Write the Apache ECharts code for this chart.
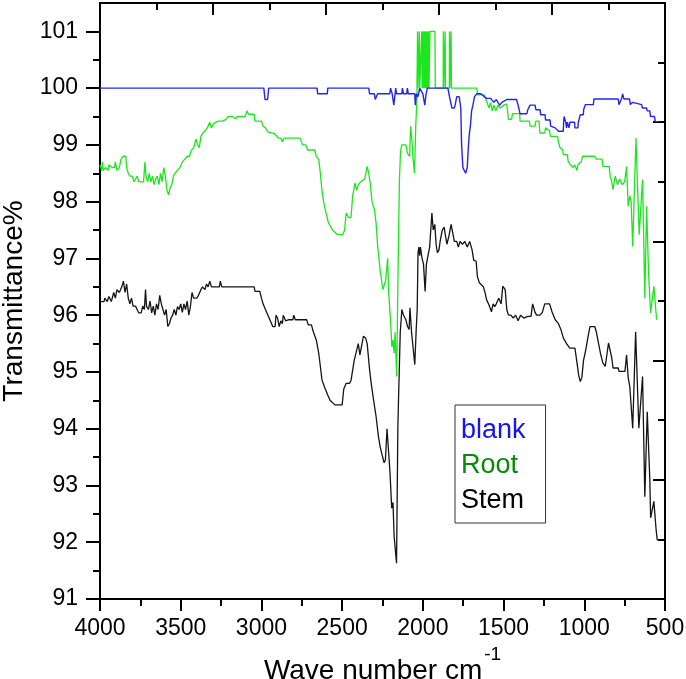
<!DOCTYPE html>
<html>
<head>
<meta charset="utf-8">
<script src="https://cdn.jsdelivr.net/npm/echarts@6/dist/echarts.min.js"></script>
<style>html,body{margin:0;padding:0;background:#fff}#c{width:686px;height:679px}</style>
</head>
<body>
<div id="c"></div>
<script>
const yMajorTicks = [91, 92, 93, 94, 95, 96, 97, 98, 99, 100, 101];
const yMinorTicks = [91.5, 92.5, 93.5, 94.5, 95.5, 96.5, 97.5, 98.5, 99.5, 100.5];
const seriesNames = ['blank', 'Root', 'Stem'];

const blankData = [
[4000,100],[2985,100],[2978,99.8],[2962,99.8],[2955,100],[2655,100],[2652,99.9],[2592,99.9],[2589,100],
[2335,100],[2330,99.9],[2300,99.9],[2295,99.8],[2285,99.8],[2280,99.9],[2205,99.9],[2200,100],[2190,99.9],
[2185,99.9],[2180,99.7],[2172,99.7],[2168,100],[2163,99.9],[2130,99.9],[2127,100],[2120,99.9],[2100,99.9],
[2096,100],[2090,99.9],[2050,99.9],[2047,99.7],[2040,99.9],[2030,99.85],[2020,100],[2010,100],[2000,99.9],
[1988,99.7],[1980,99.9],[1972,100],[1845,100],[1835,99.85],[1820,99.65],[1805,99.65],[1800,99.7],[1790,99.85],
[1775,99.85],[1765,99.65],[1760,99.0],[1752,98.6],[1735,98.5],[1725,98.6],[1718,98.97],[1712,99.2],[1705,99.35],
[1698,99.6],[1690,99.7],[1680,99.85],[1665,99.9],[1640,99.9],[1620,99.85],[1605,99.82],[1580,99.82],[1560,99.75],
[1545,99.8],[1525,99.7],[1510,99.75],[1480,99.8],[1420,99.8],[1410,99.7],[1398,99.55],[1356,99.55],[1350,99.62],
[1336,99.7],[1305,99.7],[1300,99.62],[1274,99.62],[1270,99.53],[1243,99.53],[1240,99.44],[1212,99.44],[1208,99.33],
[1180,99.3],[1160,99.24],[1130,99.24],[1128,99.4],[1125,99.5],[1115,99.4],[1110,99.3],[1105,99.4],[1095,99.3],
[1089,99.4],[1060,99.4],[1058,99.3],[1040,99.3],[1037,99.4],[1027,99.4],[1025,99.53],[1006,99.53],[1004,99.62],
[996,99.62],[994,99.71],[944,99.71],[940,99.81],[790,99.81],[785,99.71],[775,99.71],[770,99.81],[762,99.9],
[755,99.81],[720,99.81],[715,99.71],[700,99.75],[645,99.71],[640,99.65],[614,99.65],[610,99.6],[594,99.6],
[590,99.5],[565,99.5],[560,99.41],[535,99.41]
];

const rootData = [
[4000,98.65],[3990,98.55],[3985,98.7],[3980,98.55],[3965,98.6],[3950,98.55],[3945,98.65],[3925,98.6],[3910,98.6],
[3905,98.7],[3895,98.55],[3880,98.6],[3870,98.75],[3855,98.8],[3840,98.8],[3835,98.6],[3825,98.5],[3815,98.45],
[3800,98.45],[3790,98.35],[3780,98.4],[3770,98.45],[3760,98.35],[3730,98.35],[3722,98.7],[3715,98.45],[3705,98.35],
[3695,98.5],[3685,98.35],[3675,98.45],[3665,98.3],[3655,98.4],[3645,98.45],[3635,98.3],[3625,98.5],[3615,98.35],
[3605,98.6],[3595,98.45],[3585,98.2],[3575,98.12],[3565,98.25],[3555,98.3],[3545,98.45],[3535,98.5],[3520,98.55],
[3505,98.6],[3490,98.7],[3475,98.75],[3460,98.8],[3445,98.8],[3435,98.9],[3420,98.95],[3405,99.1],[3395,99.0],
[3385,98.95],[3375,99.15],[3365,99.2],[3350,99.25],[3335,99.3],[3320,99.4],[3310,99.3],[3295,99.38],[3280,99.4],
[3265,99.42],[3240,99.42],[3220,99.45],[3205,99.5],[3180,99.5],[3160,99.46],[3150,99.5],[3100,99.5],[3090,99.6],
[3080,99.54],[3045,99.54],[3040,99.42],[3000,99.42],[2990,99.33],[2975,99.3],[2960,99.23],[2920,99.2],[2895,99.12],
[2880,99.12],[2870,99.05],[2860,99.12],[2760,99.12],[2745,99.0],[2725,99.0],[2715,98.91],[2670,98.91],[2660,98.8],
[2645,98.74],[2635,98.5],[2625,98.2],[2615,98.0],[2600,97.8],[2585,97.63],[2560,97.5],[2530,97.42],[2495,97.42],
[2485,97.5],[2475,97.8],[2460,97.72],[2445,97.72],[2435,98.1],[2420,98.33],[2410,98.2],[2400,98.3],[2385,98.35],
[2360,98.4],[2345,98.62],[2335,98.5],[2325,98.3],[2315,98.0],[2300,97.86],[2290,97.63],[2280,97.21],[2265,96.8],
[2248,96.45],[2238,96.45],[2230,96.62],[2218,97.0],[2212,96.4],[2200,95.9],[2192,95.44],[2185,95.56],[2178,95.33],
[2172,95.7],[2162,94.92],[2155,96.5],[2150,97.5],[2145,98.4],[2138,98.9],[2130,99.0],[2105,99.0],[2095,98.85],
[2082,98.8],[2076,99.33],[2068,99.1],[2062,98.8],[2052,98.5],[2044,99.33],[2037,99.8],[2033,101],[2030,100],
[2022,101],[2019,100],[2007,101],[2004,100],[2000,101],[1997,100],[1993,101],[1990,100],[1986,101],[1983,100],
[1979,101],[1976,100],[1972,101],[1969,100],[1965,101],[1962,100],[1956,101],[1925,101],[1923,100],[1874,100],
[1873,101],[1871,100],[1863,100],[1862,101],[1860,100],[1836,100],[1835,101],[1833,100],[1826,100],[1825,101],
[1823,100],[1666,100],[1660,99.88],[1620,99.88],[1605,99.77],[1590,99.65],[1580,99.75],[1570,99.6],[1560,99.7],
[1548,99.6],[1535,99.7],[1520,99.65],[1500,99.7],[1480,99.72],[1470,99.45],[1450,99.45],[1445,99.55],[1400,99.55],
[1398,99.42],[1340,99.42],[1336,99.33],[1305,99.33],[1300,99.42],[1280,99.42],[1275,99.21],[1245,99.21],[1240,99.3],
[1215,99.25],[1210,99.15],[1165,99.15],[1160,99.04],[1150,98.95],[1135,98.92],[1130,98.83],[1105,98.83],[1100,98.71],
[1085,98.65],[1070,98.6],[1060,98.65],[1045,98.55],[1040,98.65],[1020,98.7],[1010,98.8],[935,98.8],[925,98.75],
[890,98.75],[885,98.62],[845,98.62],[840,98.45],[830,98.35],[822,98.21],[815,98.35],[808,98.45],[795,98.3],
[780,98.4],[765,98.3],[750,98.35],[738,98.62],[728,97.92],[718,98.1],[710,98.0],[700,97.21],[680,99.12],
[660,97.42],[639,98.39],[625,96.3],[614,97.92],[602,96.75],[589,96.04],[569,96.51],[552,95.92]
];

const stemData = [
[4000,96.24],[3975,96.24],[3970,96.3],[3955,96.24],[3945,96.33],[3930,96.24],[3915,96.4],[3905,96.3],[3895,96.45],
[3880,96.4],[3865,96.5],[3855,96.6],[3845,96.4],[3835,96.55],[3825,96.3],[3815,96.2],[3805,96.3],[3795,96.16],
[3780,96.16],[3770,96.1],[3760,96.04],[3745,96.04],[3735,96.16],[3725,96.1],[3718,96.45],[3712,96.16],[3700,96.1],
[3690,96.25],[3680,96.04],[3670,96.16],[3660,96.0],[3650,96.2],[3640,96.1],[3630,96.35],[3620,96.2],[3610,96.1],
[3600,96.0],[3590,96.1],[3580,95.8],[3570,95.85],[3560,95.95],[3550,96.0],[3540,96.1],[3530,96.0],[3520,96.15],
[3510,96.1],[3500,96.2],[3490,96.05],[3480,96.2],[3470,96.1],[3460,96.25],[3450,96.0],[3440,96.15],[3430,96.4],
[3420,96.3],[3400,96.3],[3390,96.35],[3375,96.45],[3365,96.5],[3350,96.45],[3340,96.55],[3330,96.5],[3320,96.6],
[3310,96.5],[3260,96.5],[3255,96.6],[3245,96.5],[3045,96.5],[3040,96.42],[3010,96.42],[3000,96.3],[2990,96.2],
[2975,96.1],[2960,96.0],[2945,95.9],[2930,95.8],[2915,95.8],[2910,96.0],[2900,95.95],[2890,95.8],[2880,95.9],
[2870,95.85],[2865,96.0],[2850,95.9],[2830,95.92],[2805,95.92],[2800,96.0],[2790,95.92],[2720,95.92],[2710,95.83],
[2690,95.83],[2680,95.72],[2660,95.56],[2645,95.33],[2635,95.1],[2625,94.86],[2610,94.74],[2590,94.6],[2575,94.5],
[2545,94.42],[2500,94.42],[2490,94.7],[2475,94.8],[2455,94.8],[2445,94.85],[2425,95.21],[2415,95.2],[2400,95.5],
[2390,95.3],[2380,95.3],[2368,95.63],[2355,95.6],[2345,95.5],[2330,95.04],[2320,94.8],[2305,94.5],[2290,94.22],
[2275,93.86],[2265,93.69],[2250,93.51],[2240,93.4],[2232,93.45],[2222,94.0],[2210,94.0],[2203,93.2],[2193,92.6],
[2185,92.7],[2178,92.1],[2163,91.63],[2155,94.0],[2150,94.6],[2140,95.7],[2130,96.1],[2120,96.0],[2105,95.92],
[2095,95.8],[2085,95.75],[2080,96.13],[2070,95.7],[2050,95.13],[2042,95.7],[2035,96.1],[2030,97.1],[2025,97.2],
[2020,97.05],[2015,97.2],[2005,97.0],[1996,96.9],[1986,96.42],[1978,96.9],[1968,96.9],[1958,97.2],[1944,97.8],
[1936,97.5],[1926,97.6],[1918,97.25],[1910,97.1],[1900,97.15],[1893,97.3],[1880,97.5],[1868,97.55],[1860,97.4],
[1851,97.25],[1838,97.4],[1825,97.6],[1815,97.45],[1805,97.3],[1790,97.3],[1780,97.2],[1770,97.3],[1755,97.25],
[1740,97.3],[1725,97.2],[1710,97.3],[1695,97.15],[1685,96.97],[1670,96.95],[1662,96.68],[1650,96.57],[1640,96.6],
[1625,96.5],[1615,96.4],[1605,96.27],[1590,96.18],[1575,96.06],[1565,96.2],[1555,96.15],[1545,96.2],[1530,96.3],
[1515,96.2],[1505,96.51],[1490,96.45],[1480,96.1],[1470,96.0],[1455,96.0],[1440,95.95],[1425,96.0],[1410,95.9],
[1395,96.0],[1375,95.95],[1350,95.98],[1330,95.98],[1320,96.2],[1305,96.05],[1295,96.0],[1275,96.0],[1260,96.05],
[1245,96.2],[1215,96.2],[1200,96.06],[1180,95.92],[1160,95.85],[1145,95.75],[1130,95.6],[1110,95.5],[1090,95.42],
[1058,95.42],[1045,95.16],[1035,94.95],[1025,94.83],[1015,94.9],[1005,95.2],[990,95.4],[980,95.57],[965,95.8],
[935,95.8],[925,95.7],[915,95.55],[900,95.33],[885,95.16],[870,95.1],[858,95.1],[850,95.51],[840,95.51],
[830,95.25],[822,95.07],[790,95.07],[785,95.01],[748,95.01],[738,95.3],[728,94.9],[718,94.74],[700,94.01],
[682,95.71],[662,94.01],[639,94.92],[625,92.8],[610,94.3],[594,93.1],[589,92.43],[569,92.72],[555,92.22],
[548,92.04],[530,92.04]
];

const FONT = '"Liberation Sans", Arial, sans-serif';
const chart = echarts.init(document.getElementById('c'), null, {renderer: 'canvas'});
const black = '#000';
const axisLineStyle = {color: black, width: 2};
const plain = v => String(v);

const option = {
  animation: false,
  backgroundColor: '#fff',
  textStyle: {fontFamily: FONT},
  grid: {left: 100, right: 21, top: 3, bottom: 80, containLabel: false, outerBoundsMode: 'none'},
  legend: {
    orient: 'vertical', left: 455, top: 405,
    padding: [8, 20, 5, 1], itemGap: 0, itemWidth: 0, itemHeight: 0,
    borderColor: '#333', borderWidth: 1, selectedMode: false,
    textStyle: {fontSize: 27, fontFamily: FONT, lineHeight: 35},
    data: [
      {name: seriesNames[0], icon: 'rect', textStyle: {color: '#1414f0'}},
      {name: seriesNames[1], icon: 'rect', textStyle: {color: '#0a8a0a'}},
      {name: seriesNames[2], icon: 'rect', textStyle: {color: '#000'}}
    ]
  },
  xAxis: [
    {
      type: 'value', position: 'bottom', min: 500, max: 4000, interval: 500, inverse: true,
      name: '{a|Wave number cm}{s|-1}', nameLocation: 'middle', nameGap: 37,
      nameTextStyle: {
        fontFamily: FONT, color: black,
        rich: {
          a: {fontSize: 28, fontFamily: FONT, color: black, lineHeight: 52},
          s: {fontSize: 19, fontFamily: FONT, color: black, lineHeight: 19, verticalAlign: 'top', padding: [0, 0, 0, 2]}
        }
      },
      axisLine: {show: true, onZero: false, lineStyle: axisLineStyle},
      axisTick: {show: true, inside: false, length: 12, lineStyle: axisLineStyle},
      minorTick: {show: true, splitNumber: 2, length: 7, lineStyle: axisLineStyle},
      axisLabel: {fontSize: 23, color: black, margin: 18, fontFamily: FONT, formatter: plain},
      splitLine: {show: false}, minorSplitLine: {show: false}
    },
    {
      type: 'value', position: 'top', min: 0, max: 10, interval: 2,
      axisLine: {show: true, onZero: false, lineStyle: axisLineStyle},
      axisTick: {show: true, inside: true, length: 12, lineStyle: axisLineStyle},
      minorTick: {show: true, splitNumber: 2, length: 7, lineStyle: axisLineStyle},
      axisLabel: {show: false}, splitLine: {show: false}
    }
  ],
  yAxis: [
    {
      type: 'value', position: 'left', min: 91, max: 101.5, interval: 1, offset: 0,
      name: 'Transmittance%', nameLocation: 'middle', nameGap: 71,
      nameTextStyle: {fontSize: 28, color: black, fontFamily: FONT},
      axisLine: {show: true, onZero: false, lineStyle: axisLineStyle},
      axisTick: {show: true, inside: false, length: 14, lineStyle: axisLineStyle, customValues: yMajorTicks},
      axisLabel: {fontSize: 23, color: black, margin: 22, fontFamily: FONT, customValues: yMajorTicks, formatter: plain},
      splitLine: {show: false}
    },
    {
      type: 'value', position: 'right', min: 0, max: 10, interval: 2, offset: 0,
      axisLine: {show: true, onZero: false, lineStyle: axisLineStyle},
      axisTick: {show: true, inside: true, length: 12, lineStyle: axisLineStyle},
      minorTick: {show: true, splitNumber: 2, length: 7, lineStyle: axisLineStyle},
      axisLabel: {show: false}, splitLine: {show: false}
    },
    {
      type: 'value', position: 'left', min: 91, max: 101.5, interval: 1, offset: 0,
      axisLine: {show: false},
      axisTick: {show: true, inside: false, length: 7, lineStyle: axisLineStyle, customValues: yMinorTicks},
      axisLabel: {show: false}, splitLine: {show: false}
    }
  ],
  series: [
    {name: seriesNames[1], type: 'line', data: rootData, showSymbol: false, symbol: 'none', z: 2,
     lineStyle: {color: '#1ee61e', width: 1.3}, itemStyle: {color: '#1ee61e'}},
    {name: seriesNames[0], type: 'line', data: blankData, showSymbol: false, symbol: 'none', z: 3,
     lineStyle: {color: '#2424f2', width: 1.4}, itemStyle: {color: '#2424f2'}},
    {name: seriesNames[2], type: 'line', data: stemData, showSymbol: false, symbol: 'none', z: 4,
     lineStyle: {color: '#141414', width: 1.3}, itemStyle: {color: '#141414'}}
  ]
};
chart.setOption(option);
</script>
</body>
</html>
